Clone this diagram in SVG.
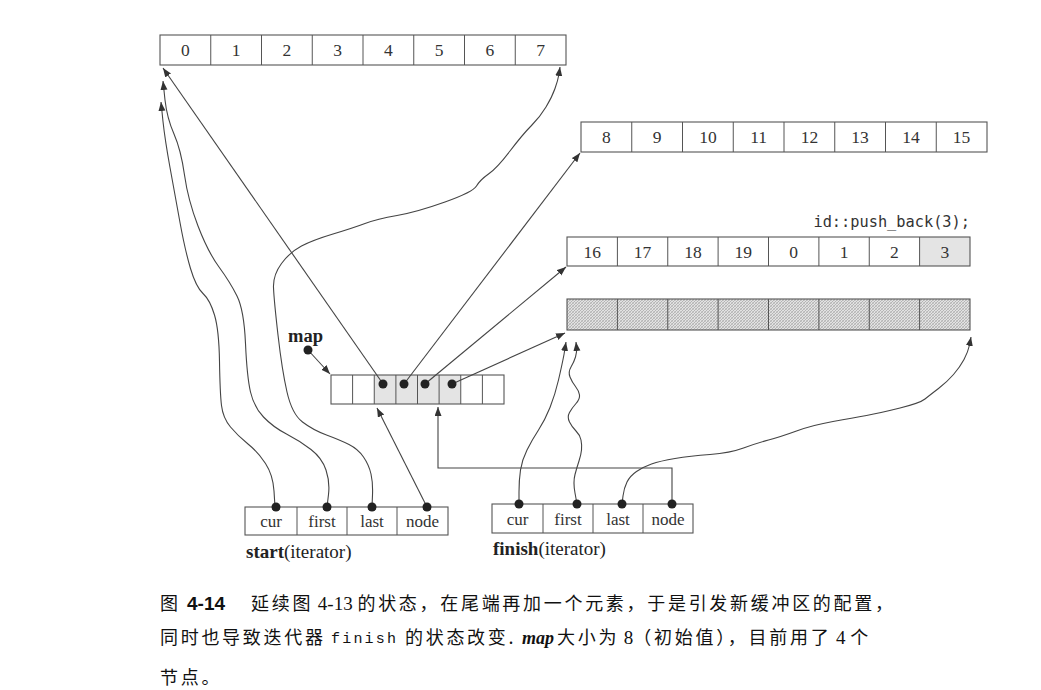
<svg xmlns="http://www.w3.org/2000/svg" width="1041" height="690" viewBox="0 0 1041 690">
<style>
.box{fill:none;stroke:#555;stroke-width:1.1}
.div{stroke:#555;stroke-width:1}
.shade{fill:#e4e4e4}
.num{font-family:"Liberation Serif",serif;font-size:17.5px;fill:#333;text-anchor:middle}
.lbl{font-family:"Liberation Serif",serif;font-size:17px;fill:#333;text-anchor:middle}
.cap{font-family:"Noto Sans CJK SC",sans-serif;font-size:18px;fill:#111;letter-spacing:2.7px}
.cap .lat{font-family:"Liberation Serif",serif;font-size:19px;letter-spacing:0}
.con{fill:none;stroke:#444;stroke-width:1.1}
.dot{fill:#222}
</style>
<defs>
<marker id="ah" markerUnits="userSpaceOnUse" markerWidth="10" markerHeight="8" refX="9" refY="3.5" orient="auto">
<path d="M0,0 L9,3.5 L0,7 z" fill="#333"/>
</marker>
<pattern id="hatch" width="3" height="3" patternUnits="userSpaceOnUse">
<rect width="3" height="3" fill="#e2e2e2"/>
<path d="M0,3 L3,0 M-1,1 L1,-1 M2,4 L4,2" stroke="#999" stroke-width="0.6"/>
<path d="M0,0 L3,3" stroke="#b0b0b0" stroke-width="0.5"/>
</pattern>
</defs>
<rect width="1041" height="690" fill="#fff"/>

<g id="buffer0">
<rect class="box" x="160" y="35" width="406" height="30"/>
<path class="div" d="M210.75,35V65M261.5,35V65M312.25,35V65M363,35V65M413.75,35V65M464.5,35V65M515.25,35V65"/>
<text class="num" y="56"><tspan x="185.4">0</tspan><tspan x="236.1">1</tspan><tspan x="286.9">2</tspan><tspan x="337.6">3</tspan><tspan x="388.4">4</tspan><tspan x="439.1">5</tspan><tspan x="489.9">6</tspan><tspan x="540.6">7</tspan></text>
</g>

<g id="buffer8">
<rect class="box" x="581" y="122" width="406" height="30"/>
<path class="div" d="M631.75,122V152M682.5,122V152M733.25,122V152M784,122V152M834.75,122V152M885.5,122V152M936.25,122V152"/>
<text class="num" y="143"><tspan x="606.4">8</tspan><tspan x="657.1">9</tspan><tspan x="707.9">10</tspan><tspan x="758.6">11</tspan><tspan x="809.4">12</tspan><tspan x="860.1">13</tspan><tspan x="910.9">14</tspan><tspan x="961.6">15</tspan></text>
</g>

<g id="push-label">
<text x="970" y="227" text-anchor="end" font-family="'DejaVu Sans Mono','Liberation Mono',monospace" font-size="15.3px" fill="#333">id::push_back(3);</text>
</g>

<g id="buffer16">
<rect class="shade" x="919.6" y="237" width="50.4" height="29"/>
<rect class="box" x="567" y="237" width="403" height="29"/>
<path class="div" d="M617.4,237V266M667.75,237V266M718.1,237V266M768.5,237V266M818.9,237V266M869.25,237V266M919.6,237V266"/>
<text class="num" y="257.5"><tspan x="592.2">16</tspan><tspan x="642.6">17</tspan><tspan x="693">18</tspan><tspan x="743.3">19</tspan><tspan x="793.7">0</tspan><tspan x="844.1">1</tspan><tspan x="894.4">2</tspan><tspan x="944.8">3</tspan></text>
</g>

<g id="buffer-new">
<rect x="567" y="299" width="403" height="31" fill="url(#hatch)"/>
<rect class="box" x="567" y="299" width="403" height="31"/>
<path class="div" d="M617.4,299V330M667.75,299V330M718.1,299V330M768.5,299V330M818.9,299V330M869.25,299V330M919.6,299V330"/>
</g>

<g id="map">
<text x="288" y="342" font-family="'Liberation Serif',serif" font-weight="bold" font-size="18.5px" fill="#222">map</text>
<rect class="shade" x="374.25" y="375" width="86.5" height="29"/>
<rect class="box" x="331" y="375" width="173" height="29"/>
<path class="div" d="M352.6,375V404M374.25,375V404M395.9,375V404M417.5,375V404M439.1,375V404M460.75,375V404M482.4,375V404"/>
</g>

<g id="start-iterator">
<rect class="box" x="245" y="507" width="203" height="28"/>
<path class="div" d="M297,507V535M347,507V535M397,507V535"/>
<text class="lbl" y="527"><tspan x="271">cur</tspan><tspan x="322">first</tspan><tspan x="372">last</tspan><tspan x="422.5">node</tspan></text>
<text x="246" y="558" font-family="'Liberation Serif',serif" font-size="19px" fill="#222"><tspan font-weight="bold">start</tspan>(iterator)</text>
</g>

<g id="finish-iterator">
<rect class="box" x="492" y="504" width="201" height="29"/>
<path class="div" d="M543,504V533M593,504V533M643,504V533"/>
<text class="lbl" y="524.5"><tspan x="517.5">cur</tspan><tspan x="568">first</tspan><tspan x="618">last</tspan><tspan x="668">node</tspan></text>
<text x="493" y="555" font-family="'Liberation Serif',serif" font-size="19px" fill="#222"><tspan font-weight="bold">finish</tspan>(iterator)</text>
</g>

<g id="connectors">
<path class="con" d="M308,350 L330,374" marker-end="url(#ah)"/>
<path class="con" d="M381,381 L163,68" marker-end="url(#ah)"/>
<path class="con" d="M404,384 L580,153" marker-end="url(#ah)"/>
<path class="con" d="M425,384 L566,267" marker-end="url(#ah)"/>
<path class="con" d="M452,384 L565,333" marker-end="url(#ah)"/>
<path class="con" d="M275,507 L274,491 Q273,475 265.5,463.5 Q258,452 248,444 Q238,436 230.5,427 Q223,418 221.5,405.5 Q220,393 219.5,361.5 Q219,330 214.5,315 Q210,300 203,293.5 Q196,287 190.5,268.5 Q185,250 180,222.5 Q175,195 170,167.5 Q165,140 163,121.5 L161,102" marker-end="url(#ah)"/>
<path class="con" d="M327,507 L328.5,494.5 Q330,482 326,470 Q322,458 311,449.5 Q300,441 286.5,434 Q273,427 263.5,417 Q254,407 250.5,392 Q247,377 245.5,343.5 Q244,310 237,296 Q230,282 219,267 Q208,252 198,226 Q188,200 184.5,175 Q181,150 174,134 Q167,118 165,100 L163,81" marker-end="url(#ah)"/>
<path class="con" d="M372,507 L372.5,495 Q373,483 371,474 Q369,465 363.5,457 Q358,449 349,444.5 Q340,440 326.5,435 Q313,430 302.5,422 Q292,414 287,392 Q282,370 278,335 Q274,300 273.5,287.5 Q273,275 281.5,263.5 Q290,252 301.5,246 Q313,240 333,234 Q353,228 365,223.5 Q377,219 397,215.5 Q417,212 445,202 Q473,192 476.5,186 Q480,180 488.5,174 Q497,168 510,151 Q523,134 531.5,125.5 Q540,117 546,107 Q552,97 555,88.5 Q558,80 559,74 L560,67" marker-end="url(#ah)"/>
<path class="con" d="M427,507 L377,408" marker-end="url(#ah)"/>
<path class="con" d="M519,504 L519,492 Q519,480 520.5,470 Q522,460 527,450 Q532,440 538.5,430 Q545,420 550,407.5 Q555,395 558.5,380 Q562,365 564,354.5 L566,342" marker-end="url(#ah)"/>
<path class="con" d="M577,504 L575,493 Q573,482 575,474.5 Q577,467 579,461 Q581,455 581.5,450 Q582,445 581,440 Q580,435 576,431 Q572,427 569.5,422 Q567,417 569.5,412.5 Q572,408 576,403.5 Q580,399 579.5,395 Q579,391 575.5,386.5 Q572,382 570,377 Q568,372 571,367 Q574,362 575.5,357 Q577,352 576.5,347 L576,342" marker-end="url(#ah)"/>
<path class="con" d="M622,504 L623,496 Q624,488 627,482 Q630,476 636.5,471.5 Q643,467 651.5,464 Q660,461 675,458.5 Q690,456 710,454.5 Q730,453 743.5,448 Q757,443 768.5,440 Q780,437 796.5,431 Q813,425 833,421.5 Q853,418 866.5,415.5 Q880,413 900,408 Q920,403 925,399 Q930,395 938.5,388.5 Q947,382 953.5,374.5 Q960,367 964,359.5 Q968,352 969.5,345 L971,337" marker-end="url(#ah)"/>
<path class="con" d="M672,504 L672,468 L438,468 L438,407" marker-end="url(#ah)"/>
</g>

<g id="dots">
<circle class="dot" cx="308" cy="350" r="4.5"/>
<circle class="dot" cx="383" cy="384" r="4.5"/>
<circle class="dot" cx="404" cy="384" r="4.5"/>
<circle class="dot" cx="425" cy="384" r="4.5"/>
<circle class="dot" cx="452" cy="384" r="4.5"/>
<circle class="dot" cx="276" cy="507" r="4.5"/>
<circle class="dot" cx="327" cy="507" r="4.5"/>
<circle class="dot" cx="372" cy="507" r="4.5"/>
<circle class="dot" cx="427" cy="507" r="4.5"/>
<circle class="dot" cx="519" cy="504" r="4.5"/>
<circle class="dot" cx="577" cy="504" r="4.5"/>
<circle class="dot" cx="622" cy="504" r="4.5"/>
<circle class="dot" cx="672" cy="504" r="4.5"/>
</g>

<g id="caption">
<text class="cap" x="160" y="610">图</text>
<text x="187" y="610" font-family="'Liberation Sans',sans-serif" font-weight="bold" font-size="19px" fill="#111">4-14</text>
<text class="cap" x="251" y="610">延续图<tspan class="lat"> 4-13 </tspan>的状态，在尾端再加一个元素，于是引发新缓冲区的配置，</text>
<text class="cap" x="160" y="644">同时也导致迭代器</text>
<text x="331" y="643" font-family="'Liberation Mono',monospace" font-size="15px" fill="#111" textLength="65" lengthAdjust="spacing">finish</text>
<text class="cap" x="405" y="644">的状态改变.</text>
<text x="522" y="644" font-family="'Liberation Serif',serif" font-style="italic" font-weight="bold" font-size="18px" fill="#111">map</text>
<text class="cap" x="557" y="644">大小为<tspan class="lat"> 8</tspan>（初始值），目前用了<tspan class="lat"> 4 </tspan>个</text>
<text class="cap" x="160" y="684">节点。</text>
</g>
</svg>
